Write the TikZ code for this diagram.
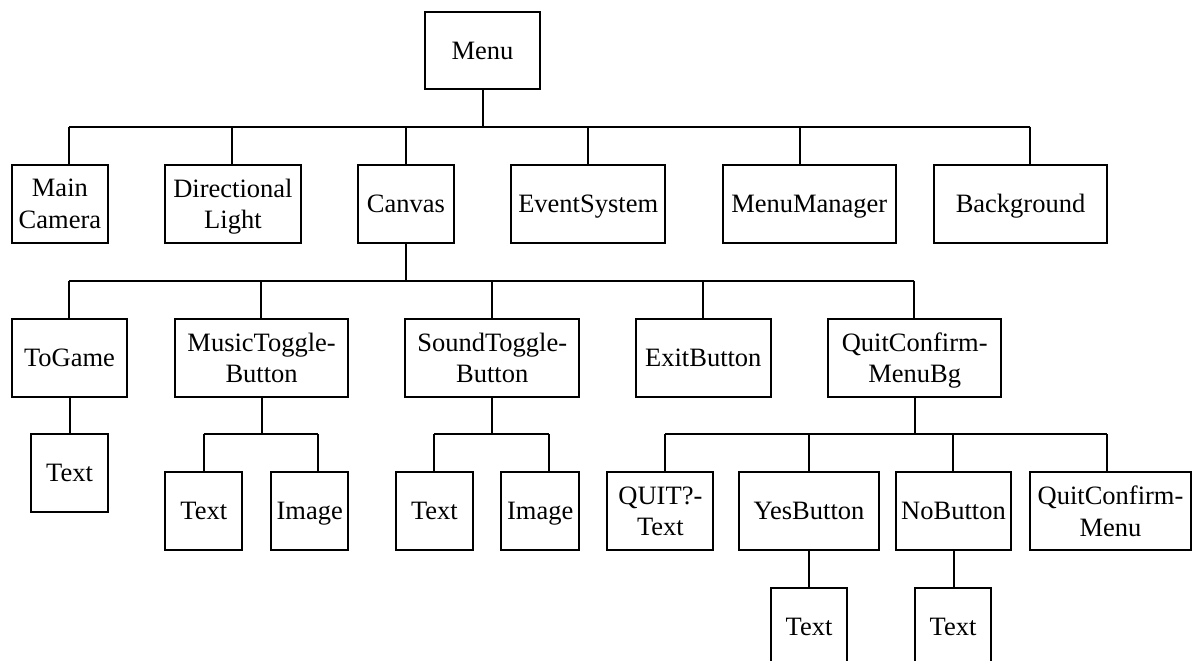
\documentclass[tikz,border=0pt]{standalone}
\usepackage{fontspec}
\setmainfont{Liberation Serif}
\tikzset{
  box/.style={draw, line width=2pt, inner sep=0pt, align=center, text depth=0pt,
    font=\fontsize{26.5}{31.5}\selectfont},
  link/.style={line width=2pt},
}
\begin{document}
\begin{tikzpicture}[x=1pt,y=-1pt]
\useasboundingbox (0,0) rectangle (1194,661);
\clip (0,0) rectangle (1194,661);
% level 0
\node[box, minimum width=115pt, minimum height=77pt] (menu) at (482.5,50.5) {Menu};
% level 1
\node[box, minimum width=96.8pt, minimum height=77.5pt] (cam) at (59.9,203.8) {Main\\Camera};
\node[box, minimum width=135.2pt, minimum height=77.5pt] (dir) at (232.9,203.8) {Directional\\Light};
\node[box, minimum width=96.5pt, minimum height=77.5pt] (canvas) at (406,203.8) {Canvas};
\node[box, minimum width=153.9pt, minimum height=77.5pt] (event) at (588.2,203.8) {EventSystem};
\node[box, minimum width=173.4pt, minimum height=77.5pt] (mgr) at (809.3,203.8) {MenuManager};
\node[box, minimum width=173pt, minimum height=77.5pt] (bg) at (1020.5,203.8) {Background};
% level 2
\node[box, minimum width=115.9pt, minimum height=77.2pt] (togame) at (69.5,357.9) {ToGame};
\node[box, minimum width=173.4pt, minimum height=77.2pt] (music) at (261.6,357.9) {MusicToggle-\\Button};
\node[box, minimum width=173.7pt, minimum height=77.2pt] (sound) at (492.2,357.9) {SoundToggle-\\Button};
\node[box, minimum width=135.1pt, minimum height=77.2pt] (exit) at (703.3,357.9) {ExitButton};
\node[box, minimum width=173pt, minimum height=77.2pt] (qcbg) at (914.7,357.9) {QuitConfirm-\\MenuBg};
% level 3
\node[box, minimum width=77.7pt, minimum height=77.7pt] (tgt) at (69.5,472.9) {Text};
\node[box, minimum width=76.9pt, minimum height=78pt] (mt) at (203.8,511) {Text};
\node[box, minimum width=77.3pt, minimum height=78pt] (mi) at (309.7,511) {Image};
\node[box, minimum width=77.3pt, minimum height=78pt] (st) at (434.4,511) {Text};
\node[box, minimum width=77.7pt, minimum height=78pt] (si) at (540.2,511) {Image};
\node[box, minimum width=106pt, minimum height=78pt] (quit) at (660.4,511) {QUIT?-\\Text};
\node[box, minimum width=139.3pt, minimum height=78pt] (yes) at (809,511) {YesButton};
\node[box, minimum width=115pt, minimum height=78pt] (no) at (953.5,511) {NoButton};
\node[box, minimum width=161pt, minimum height=78pt] (qcm) at (1110.5,511) {QuitConfirm-\\Menu};
% level 4
\node[box, minimum width=76.5pt, minimum height=77.8pt] (yt) at (809,627.2) {Text};
\node[box, minimum width=76.5pt, minimum height=77.8pt] (nt) at (953,627.2) {Text};

% bus 1
\coordinate (b1) at (482.5,126.7);
\coordinate (jcam) at (69.3,126.7);
\coordinate (jdir) at (232.3,126.7);
\coordinate (jcanvas) at (405.7,126.7);
\coordinate (jevent) at (587.8,126.7);
\coordinate (jmgr) at (799.9,126.7);
\coordinate (jbg) at (1030,126.7);
\draw[link] (menu.south) -- (b1);
\draw[link] (jcam) -- (jbg);
\foreach \n in {cam,dir,canvas,event,mgr,bg}
  \draw[link] (j\n) -- (j\n |- \n.north);

% bus 2
\coordinate (b2) at (405.7,280.7);
\coordinate (jtogame) at (69.3,280.7);
\coordinate (jmusic) at (261.4,280.7);
\coordinate (jsound) at (491.8,280.7);
\coordinate (jexit) at (703.3,280.7);
\coordinate (jqcbg) at (914.3,280.7);
\draw[link] (canvas.south) -- (canvas.south |- b2);
\draw[link] (jtogame) -- (jqcbg);
\foreach \n in {togame,music,sound,exit,qcbg}
  \draw[link] (j\n) -- (j\n |- \n.north);

% ToGame -> Text
\draw[link] (togame.south) -- (tgt.north);

% MusicToggle bus
\coordinate (jmt) at (203.6,434);
\coordinate (jmi) at (318.4,434);
\draw[link] (music.south) -- (music.south |- jmt);
\draw[link] (jmt) -- (jmi);
\foreach \n in {mt,mi}
  \draw[link] (j\n) -- (j\n |- \n.north);

% SoundToggle bus
\coordinate (jst) at (434,434);
\coordinate (jsi) at (549.2,434);
\draw[link] (sound.south) -- (sound.south |- jst);
\draw[link] (jst) -- (jsi);
\foreach \n in {st,si}
  \draw[link] (j\n) -- (j\n |- \n.north);

% QuitConfirm-MenuBg bus
\coordinate (jquit) at (665.2,434);
\coordinate (jyes) at (808.7,434);
\coordinate (jno) at (953,434);
\coordinate (jqcm) at (1107,434);
\draw[link] (qcbg.south) -- (qcbg.south |- jquit);
\draw[link] (jquit) -- (jqcm);
\foreach \n in {quit,yes,no,qcm}
  \draw[link] (j\n) -- (j\n |- \n.north);

% level 4 links
\draw[link] (yes.south) -- (yes.south |- yt.north);
\draw[link] (no.south) -- (no.south |- nt.north);
\end{tikzpicture}
\end{document}
